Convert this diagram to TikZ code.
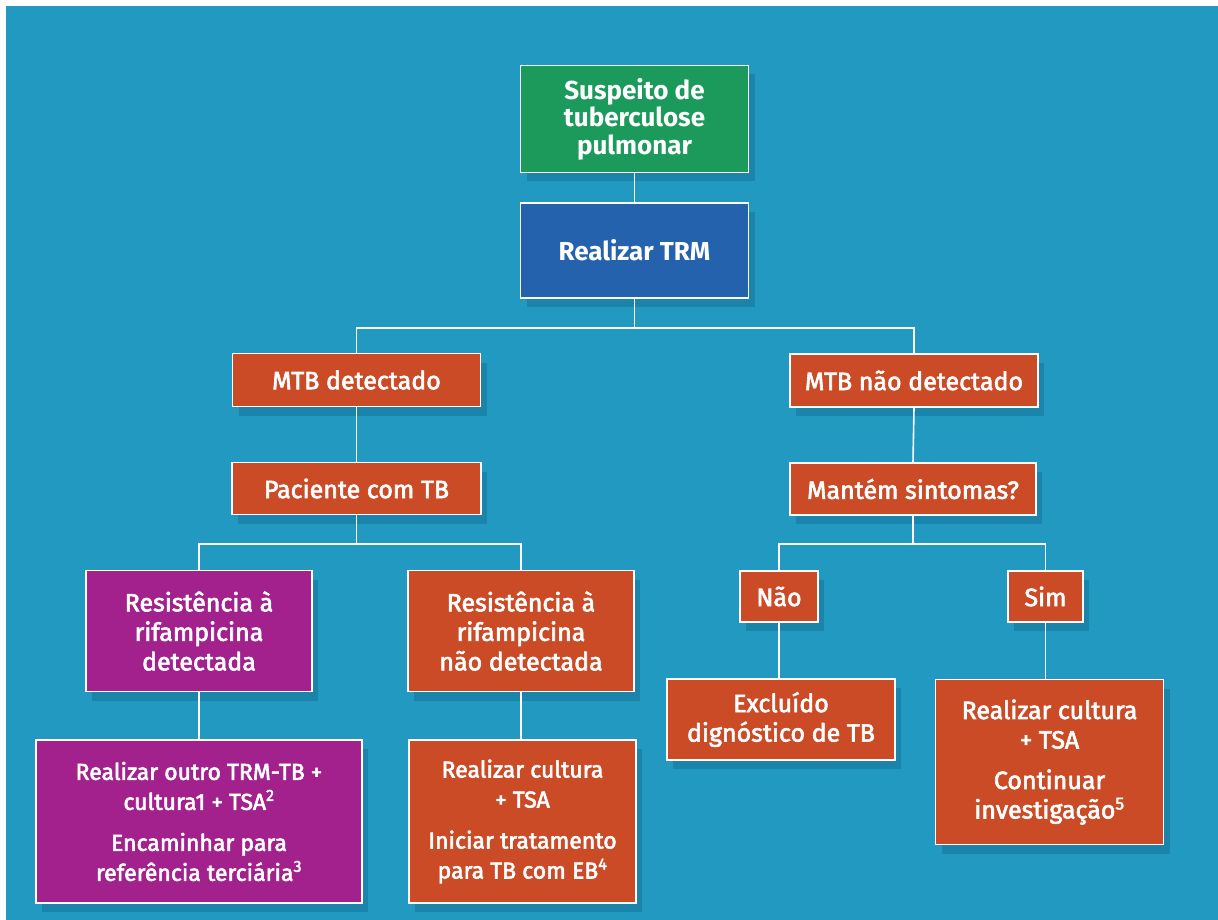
\documentclass[tikz,border=0pt]{standalone}
\usepackage{fontspec}
\setmainfont{Fira Sans}
\newfontfamily\semib{Fira Sans}[FakeBold=2.5]
\usetikzlibrary{shadows}
\definecolor{bgblue}{RGB}{34,153,192}
\definecolor{greenc}{RGB}{27,154,91}
\definecolor{bluec}{RGB}{36,98,174}
\definecolor{orangec}{RGB}{204,75,39}
\definecolor{purplec}{RGB}{163,33,140}
\definecolor{shadowc}{RGB}{10,70,110}
\tikzset{
  box/.style={draw=white, line width=1.6pt, inner sep=0pt, align=center, text=white,
    font=\semib\fontsize{25}{29.5}\selectfont,
    drop shadow={shadow xshift=6pt, shadow yshift=-9pt, fill=shadowc, opacity=0.25}},
  topbox/.style={box, font=\bfseries\fontsize{26}{27.5}\selectfont},
  smallbox/.style={box, font=\semib\fontsize{23}{30}\selectfont},
  obox/.style={fill=orangec},
  pbox/.style={fill=purplec},
  conn/.style={draw=white, line width=1.6pt}
}
\begin{document}
\begin{tikzpicture}[x=1pt,y=-1pt]
\useasboundingbox (0,0) rectangle (1218,920);
\fill[white] (0,0) rectangle (1218,920);
\fill[bgblue] (6,6) rectangle (1218,920);

\node[topbox, fill=greenc, minimum width=228pt, minimum height=107pt] (s1) at (634.5,119) {Suspeito de\\tuberculose\\pulmonar};
\node[topbox, fill=bluec, minimum width=228pt, minimum height=95pt] (trm) at (634.5,250.5) {Realizar TRM};

\node[box, obox, minimum width=248pt, minimum height=53pt] (mtb1) at (356.5,380) {MTB detectado};
\node[box, obox, minimum width=248pt, minimum height=53pt] (mtb2) at (914,380.5) {MTB não detectado};
\node[box, obox, minimum width=249pt, minimum height=52pt] (pac) at (356.5,488.5) {Paciente com TB};
\node[box, obox, minimum width=246pt, minimum height=52pt] (mant) at (913,489) {Mantém sintomas?};

\node[box, pbox, minimum width=226pt, minimum height=121pt] (res1) at (199,631) {Resistência à\\rifampicina\\detectada};
\node[box, obox, minimum width=226pt, minimum height=121pt] (res2) at (521,631) {Resistência à\\rifampicina\\não detectada};
\node[box, obox, minimum width=78pt, minimum height=51pt] (nao) at (779,596.5) {Não};
\node[box, obox, minimum width=75pt, minimum height=51pt] (sim) at (1045.5,596.5) {Sim};

\node[box, obox, minimum width=228pt, minimum height=81pt] (excl) at (781,719.5) {Excluído\\dignóstico de TB};
\node[box, obox, minimum width=228pt, minimum height=165pt] (simb) at (1049.5,762) {Realizar cultura\\+ TSA\\[11pt]Continuar\\investigação\textsuperscript{5}};
\node[smallbox, pbox, minimum width=326pt, minimum height=163pt] (pb) at (199,821.5) {Realizar outro TRM-TB +\\cultura1 + TSA\textsuperscript{2}\\[11pt]Encaminhar para\\referência terciária\textsuperscript{3}};
\node[smallbox, obox, minimum width=227pt, minimum height=163pt] (ob) at (522.5,821.5) {Realizar cultura\\+ TSA\\[11pt]Iniciar tratamento\\para TB com EB\textsuperscript{4}};

\path (trm.south) ++(0,29) coordinate (j1);
\path (pac.south) ++(0,28.5) coordinate (j2);
\path (mant.south) ++(0,28) coordinate (j3);

\draw[conn] (s1.south) -- (trm.north);
\draw[conn] (trm.south) -- (j1);
\draw[conn] (mtb1.north) |- (j1) -| (mtb2.north);
\draw[conn] (mtb1.south) -- (pac.north);
\draw[conn] (mtb2.south) -- (mant.north);
\draw[conn] (pac.south) -- (j2);
\draw[conn] (res1.north) |- (j2) -| (res2.north);
\draw[conn] (mant.south) -- (j3);
\draw[conn] (nao.north) |- (j3) -| (sim.north);
\draw[conn] (res1.south) -- (res1.south |- pb.north);
\draw[conn] (res2.south) -- (res2.south |- ob.north);
\draw[conn] (nao.south) -- (nao.south |- excl.north);
\draw[conn] (sim.south) -- (sim.south |- simb.north);
\end{tikzpicture}
\end{document}
